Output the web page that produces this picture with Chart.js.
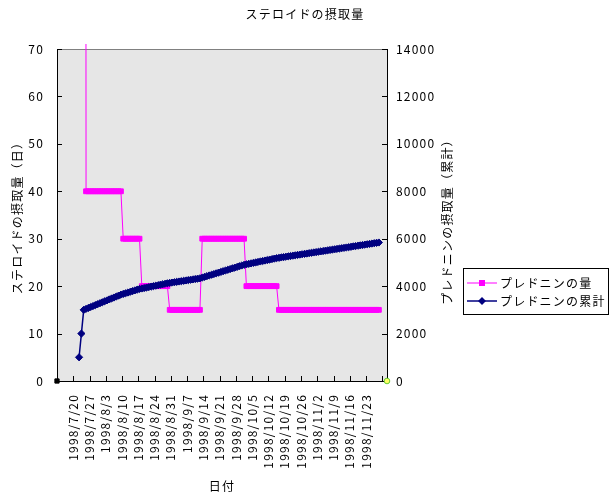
<!DOCTYPE html>
<html lang="ja">
<head>
<meta charset="utf-8">
<title>ステロイドの摂取量</title>
<script src="https://cdn.jsdelivr.net/npm/chart.js@4.4.1/dist/chart.umd.min.js"></script>
<style>
  html, body { margin: 0; padding: 0; background: #fff; }
  #wrap { width: 610px; height: 499px; }
</style>
</head>
<body>
<div id="wrap"><canvas id="steroidChart" width="610" height="499"></canvas></div>
<script>
// ====== データ ======
// x は日数 (1998/7/13 = 0 日目)。目盛りは 7 日ごと。
var tickLabels = ['', '1998/7/20', '1998/7/27', '1998/8/3', '1998/8/10', '1998/8/17', '1998/8/24',
    '1998/8/31', '1998/9/7', '1998/9/14', '1998/9/21', '1998/9/28', '1998/10/5', '1998/10/12',
    '1998/10/19', '1998/10/26', '1998/11/2', '1998/11/9', '1998/11/16', '1998/11/23', ''];
var tickStep = 7;
var dayMin = -0.5;
var dayMax = 141.5;

var firstDay = 9; // 1998/7/22

// プレドニンの量 (mg/日)
var dailyDose = [
    1000, 1000, 1000,
    40, 40, 40, 40, 40, 40, 40, 40, 40, 40, 40, 40, 40, 40, 40, 40,
    30, 30, 30, 30, 30, 30, 30, 30,
    20, 20, 20, 20, 20, 20, 20, 20, 20, 20, 20, 20,
    15, 15, 15, 15, 15, 15, 15, 15, 15, 15, 15, 15, 15, 15,
    30, 30, 30, 30, 30, 30, 30, 30, 30, 30, 30, 30, 30, 30, 30, 30, 30, 30, 30,
    20, 20, 20, 20, 20, 20, 20, 20, 20, 20, 20, 20, 20, 20,
    15, 15, 15, 15, 15, 15, 15, 15, 15, 15, 15, 15, 15, 15, 15, 15, 15, 15, 15, 15, 15, 15,
    15, 15, 15, 15, 15, 15, 15, 15, 15, 15, 15, 15, 15, 15, 15, 15, 15, 15, 15, 15, 15, 15
];

// プレドニンの累計 (mg)
var totalDose = [
    1000, 2000, 3000,
    3040, 3080, 3120, 3160, 3200, 3240, 3280, 3320, 3360, 3400, 3440, 3480, 3520, 3560, 3600, 3640,
    3670, 3700, 3730, 3760, 3790, 3820, 3850, 3880,
    3900, 3920, 3940, 3960, 3980, 4000, 4020, 4040, 4060, 4080, 4100, 4120,
    4135, 4150, 4165, 4180, 4195, 4210, 4225, 4240, 4255, 4270, 4285, 4300, 4315, 4330,
    4360, 4390, 4420, 4450, 4480, 4510, 4540, 4570, 4600, 4630, 4660, 4690, 4720, 4750, 4780, 4810, 4840, 4870, 4900,
    4920, 4940, 4960, 4980, 5000, 5020, 5040, 5060, 5080, 5100, 5120, 5140, 5160, 5180,
    5195, 5210, 5225, 5240, 5255, 5270, 5285, 5300, 5315, 5330, 5345, 5360, 5375, 5390, 5405, 5420, 5435, 5450, 5465, 5480, 5495, 5510,
    5525, 5540, 5555, 5570, 5585, 5600, 5615, 5630, 5645, 5660, 5675, 5690, 5705, 5720, 5735, 5750, 5765, 5780, 5795, 5810, 5825, 5840
];

// 軸の範囲
var leftMax = 70, leftStep = 10;
var rightMax = 14000, rightStep = 2000;

// 軸の両端にある小さな印
var cornerDays = [-0.5, 141.5];
var cornerValues = [0, 0];

// ====== 描画 ======
var FONT = '"Noto Sans CJK JP", "Noto Sans", sans-serif';
Chart.defaults.font.family = FONT;
Chart.defaults.font.size = 12;
Chart.defaults.color = '#000';

function toPoints(values, start) {
    return values.map(function(v, i) { return { x: start + i, y: v }; });
}

// 背景・内向きの目盛り・右軸タイトル・凡例
var extrasPlugin = {
    id: 'extras',
    beforeUpdate: function(chart) {
        chart.ctx.letterSpacing = '1.2px';
    },
    beforeDraw: function(chart) {
        var a = chart.chartArea;
        var ctx = chart.ctx;
        ctx.letterSpacing = '1.2px';
        ctx.save();
        ctx.fillStyle = '#e6e6e6';
        ctx.fillRect(a.left, a.top, a.right - a.left, a.bottom - a.top);
        ctx.strokeStyle = '#808080';
        ctx.lineWidth = 1;
        ctx.strokeRect(a.left + 0.5, a.top + 0.5, a.right - a.left, a.bottom - a.top);
        ctx.restore();
    },
    beforeDatasetsDraw: function(chart) {
        var a = chart.chartArea;
        var ctx = chart.ctx;
        var len = 5;
        ctx.save();
        ctx.strokeStyle = '#000';
        ctx.lineWidth = 1;
        ctx.beginPath();
        chart.scales.x.ticks.forEach(function(t) {
            var px = Math.round(chart.scales.x.getPixelForValue(t.value)) + 0.5;
            ctx.moveTo(px, a.bottom);
            ctx.lineTo(px, a.bottom - len);
        });
        chart.scales.y.ticks.forEach(function(t) {
            var py = Math.round(chart.scales.y.getPixelForValue(t.value)) + 0.5;
            ctx.moveTo(a.left, py);
            ctx.lineTo(a.left + len, py);
        });
        chart.scales.y2.ticks.forEach(function(t) {
            var py = Math.round(chart.scales.y2.getPixelForValue(t.value)) + 0.5;
            ctx.moveTo(a.right, py);
            ctx.lineTo(a.right - len, py);
        });
        ctx.stroke();
        ctx.restore();
    },
    afterDraw: function(chart) {
        var a = chart.chartArea;
        var ctx = chart.ctx;
        ctx.save();
        ctx.font = '12px ' + FONT;
        ctx.fillStyle = '#000';

        // 右軸のタイトル (下から上へ)
        ctx.save();
        ctx.translate(447, (a.top + a.bottom) / 2 + 4);
        ctx.rotate(-Math.PI / 2);
        ctx.textAlign = 'center';
        ctx.textBaseline = 'middle';
        ctx.fillText(chart.options.scales.y2.title.text, 0, 0);
        ctx.restore();

        // 凡例
        var box = { left: 463, top: 268, width: 145, height: 46 };
        ctx.strokeStyle = '#000';
        ctx.lineWidth = 1;
        ctx.strokeRect(box.left + 0.5, box.top + 0.5, box.width, box.height);
        ctx.textAlign = 'left';
        ctx.textBaseline = 'middle';
        [0, 1].forEach(function(i) {
            var ds = chart.data.datasets[i];
            var y = box.top + 15 + i * 18;
            var mx = box.left + 19;
            ctx.strokeStyle = ds.borderColor;
            ctx.lineWidth = ds.borderWidth;
            ctx.beginPath();
            ctx.moveTo(box.left + 4, y);
            ctx.lineTo(box.left + 34, y);
            ctx.stroke();
            ctx.fillStyle = ds.backgroundColor;
            ctx.beginPath();
            if (ds.pointStyle === 'rect') {
                ctx.rect(mx - 3, y - 3, 6, 6);
            } else {
                ctx.moveTo(mx, y - 4);
                ctx.lineTo(mx + 4, y);
                ctx.lineTo(mx, y + 4);
                ctx.lineTo(mx - 4, y);
                ctx.closePath();
            }
            ctx.fill();
            ctx.fillStyle = '#000';
            ctx.fillText(ds.label, box.left + 37, y);
        });
        ctx.restore();
    }
};

var ctx = document.getElementById('steroidChart').getContext('2d');
var steroidChart = new Chart(ctx, {
    type: 'line',
    data: {
        datasets: [{
            label: 'プレドニンの量',
            data: toPoints(dailyDose, firstDay),
            yAxisID: 'y',
            borderColor: '#ff00ff',
            backgroundColor: '#ff00ff',
            borderWidth: 1,
            pointStyle: 'rect',
            pointRadius: 3.4,
            pointBorderWidth: 1,
            tension: 0,
            clip: { left: 0, top: 5, right: 5, bottom: 0 },
            order: 2
        }, {
            label: 'プレドニンの累計',
            data: toPoints(totalDose, firstDay),
            yAxisID: 'y2',
            borderColor: '#000080',
            backgroundColor: '#000080',
            borderWidth: 1.5,
            pointStyle: 'rectRot',
            pointRadius: 3.6,
            pointBorderWidth: 1,
            tension: 0,
            order: 1
        }, {
            label: '',
            data: cornerDays.map(function(d, i) { return { x: d, y: cornerValues[i] }; }),
            yAxisID: 'y',
            showLine: false,
            pointStyle: ['rect', 'circle'],
            pointRadius: [3, 2.8],
            pointBackgroundColor: ['#000000', '#ffff66'],
            pointBorderColor: ['#000000', '#66cc33'],
            pointBorderWidth: 1,
            clip: false,
            order: 0
        }]
    },
    options: {
        responsive: false,
        animation: false,
        events: [],
        layout: { padding: 0 },
        plugins: {
            legend: { display: false },
            tooltip: { enabled: false },
            title: {
                display: true,
                text: 'ステロイドの摂取量',
                color: '#000',
                font: { size: 12, weight: 'normal' },
                padding: { top: 7, bottom: 27.6 }
            }
        },
        scales: {
            x: {
                type: 'linear',
                min: dayMin,
                max: dayMax,
                afterBuildTicks: function(scale) {
                    scale.ticks = tickLabels.map(function(t, k) { return { value: k * tickStep + dayMin }; });
                },
                afterFit: function(scale) { scale.height = 118; },
                ticks: {
                    autoSkip: false,
                    minRotation: 90,
                    maxRotation: 90,
                    padding: 13,
                    color: '#000',
                    callback: function(value, index) { return tickLabels[index]; }
                },
                grid: { drawOnChartArea: false, drawTicks: false },
                border: { display: true, color: '#000', width: 1 },
                title: {
                    display: true,
                    text: '日付',
                    color: '#000',
                    padding: { top: 0, bottom: 5 }
                }
            },
            y: {
                position: 'left',
                min: 0,
                max: leftMax,
                afterFit: function(scale) { scale.width = 57; },
                ticks: { stepSize: leftStep, padding: 13, color: '#000' },
                grid: { drawOnChartArea: false, drawTicks: false },
                border: { display: true, color: '#000', width: 1 },
                title: {
                    display: true,
                    text: 'ステロイドの摂取量（日）',
                    color: '#000',
                    padding: { top: 10, bottom: 0 }
                }
            },
            y2: {
                position: 'right',
                min: 0,
                max: rightMax,
                afterFit: function(scale) { scale.width = 223; },
                ticks: {
                    stepSize: rightStep,
                    padding: 9,
                    color: '#000',
                    callback: function(value) { return String(value); }
                },
                grid: { drawOnChartArea: false, drawTicks: false },
                border: { display: true, color: '#000', width: 1 },
                title: { display: false, text: 'プレドニンの摂取量（累計）' }
            }
        }
    },
    plugins: [extrasPlugin]
});
</script>
</body>
</html>
